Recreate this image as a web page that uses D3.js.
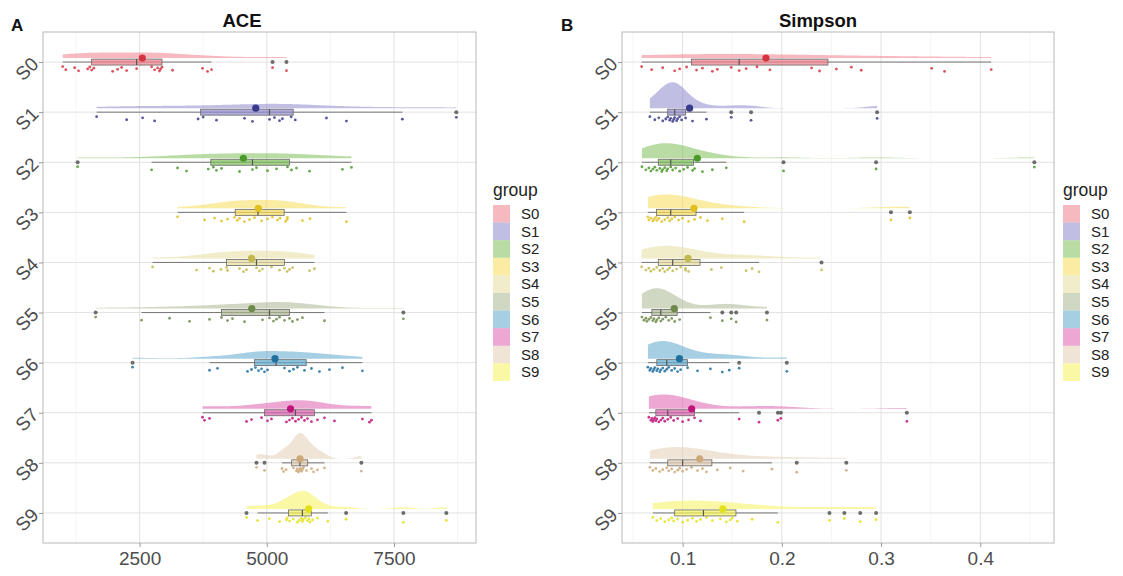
<!DOCTYPE html>
<html>
<head>
<meta charset="utf-8">
<script src="https://cdn.jsdelivr.net/npm/d3@7"></script>
<title>ACE / Simpson</title>
<style>
    body { margin: 0; background: #fff; }
    text { font-family: "Liberation Sans", Arial, sans-serif; }
</style>
</head>
<body>
<svg id="chart" width="1123" height="576"></svg>
<script>
const groups = ["S0", "S1", "S2", "S3", "S4", "S5", "S6", "S7", "S8", "S9"];
const fillColors = ["#EE7F8C", "#8E89CC", "#7EBF5A", "#F7DC5A", "#E5DC9E", "#A9B690", "#5FA8CC", "#DC5FAE", "#E3CDB5", "#F5F25A"];
const darkColors = ["#D6323F", "#3A3A8C", "#4A9A2A", "#E0C020", "#C2BA4E", "#6E8A4A", "#1F6F9F", "#C0157A", "#CDA878", "#E2E21A"];

// ACE values per group
const aceS0 = [988, 1050, 1223, 1300, 1479, 1520, 1557, 1600, 1970, 2068, 2146, 2245, 2441, 2736, 2795, 2854, 2890, 2912, 2940, 3148, 3737, 3836, 3914, 5114, 5387];
const aceS1 = [1655, 2245, 2559, 2795, 3650, 3750, 4012, 4562, 4719, 5053, 5151, 5250, 5308, 5480, 5560, 6173, 6566, 7665, 8726];
const aceS2 = [1282, 2736, 3246, 3423, 3850, 3950, 4010, 4110, 4464, 4719, 4798, 5014, 5191, 5407, 5485, 5583, 5839, 6487, 6664];
const aceS3 = [3246, 3777, 3973, 4110, 4228, 4366, 4420, 4464, 4560, 4660, 4759, 4896, 5014, 5112, 5210, 5260, 5370, 5400, 5407, 5701, 5850, 6566];
const aceS4 = [2755, 3619, 3875, 3950, 4100, 4209, 4228, 4464, 4543, 4602, 4798, 4857, 4916, 5092, 5250, 5348, 5400, 5446, 5505, 5839, 5937];
const aceS5 = [1636, 2539, 3089, 3482, 3875, 4110, 4228, 4326, 4562, 4916, 5053, 5132, 5191, 5250, 5348, 5446, 5505, 5603, 5701, 6134, 7685];
const aceS6 = [2362, 3875, 4032, 4621, 4700, 4778, 4837, 4896, 4955, 5014, 5348, 5446, 5525, 5603, 5741, 5878, 6035, 6232, 6487, 6880];
const aceS7 = [3737, 3777, 3875, 4602, 4700, 4896, 5014, 5092, 5387, 5446, 5505, 5564, 5623, 5682, 5741, 5800, 5878, 5996, 6134, 6330, 6880, 7018, 7057];
const aceS8 = [4798, 4955, 5300, 5330, 5380, 5525, 5584, 5600, 5623, 5642, 5660, 5682, 5700, 5721, 5780, 5880, 5920, 5996, 6134, 6860];
const aceS9 = [4602, 4818, 5050, 5250, 5387, 5400, 5450, 5520, 5600, 5640, 5682, 5700, 5720, 5760, 5800, 5830, 5850, 5900, 6000, 6200, 6560, 7685, 8530];

// Simpson values per group
const simS0 = [0.0587, 0.0688, 0.0799, 0.092, 0.097, 0.104, 0.114, 0.120, 0.130, 0.135, 0.149, 0.157, 0.164, 0.175, 0.188, 0.230, 0.238, 0.255, 0.270, 0.280, 0.351, 0.364, 0.411];
const simS1 = [0.067, 0.072, 0.076, 0.080, 0.083, 0.085, 0.087, 0.088, 0.090, 0.091, 0.092, 0.094, 0.095, 0.097, 0.099, 0.103, 0.110, 0.124, 0.149, 0.169, 0.296];
const simS2 = [0.059, 0.063, 0.066, 0.068, 0.070, 0.072, 0.074, 0.077, 0.079, 0.080, 0.082, 0.084, 0.085, 0.088, 0.090, 0.093, 0.097, 0.101, 0.105, 0.110, 0.112, 0.120, 0.130, 0.144, 0.2017, 0.295, 0.4545];
const simS3 = [0.065, 0.066, 0.068, 0.070, 0.071, 0.073, 0.074, 0.076, 0.079, 0.082, 0.085, 0.087, 0.089, 0.092, 0.096, 0.100, 0.106, 0.112, 0.118, 0.125, 0.140, 0.162, 0.310, 0.329];
const simS4 = [0.0587, 0.063, 0.066, 0.068, 0.071, 0.074, 0.077, 0.080, 0.082, 0.085, 0.087, 0.090, 0.094, 0.098, 0.103, 0.103, 0.106, 0.129, 0.139, 0.164, 0.170, 0.177, 0.240];
const simS5 = [0.059, 0.061, 0.063, 0.064, 0.066, 0.068, 0.070, 0.071, 0.073, 0.074, 0.076, 0.078, 0.080, 0.083, 0.086, 0.089, 0.092, 0.097, 0.128, 0.140, 0.149, 0.154, 0.185];
const simS6 = [0.065, 0.067, 0.068, 0.070, 0.071, 0.072, 0.074, 0.075, 0.077, 0.078, 0.080, 0.082, 0.084, 0.086, 0.089, 0.092, 0.095, 0.098, 0.105, 0.115, 0.128, 0.140, 0.147, 0.157, 0.205];
const simS7 = [0.066, 0.068, 0.069, 0.070, 0.071, 0.072, 0.073, 0.074, 0.076, 0.078, 0.080, 0.082, 0.085, 0.088, 0.091, 0.095, 0.100, 0.106, 0.112, 0.118, 0.157, 0.177, 0.196, 0.199, 0.326];
const simS8 = [0.067, 0.070, 0.073, 0.077, 0.080, 0.084, 0.086, 0.089, 0.092, 0.095, 0.097, 0.100, 0.104, 0.109, 0.115, 0.120, 0.124, 0.135, 0.148, 0.161, 0.190, 0.215, 0.265];
const simS9 = [0.070, 0.074, 0.078, 0.082, 0.086, 0.089, 0.091, 0.095, 0.100, 0.105, 0.110, 0.114, 0.118, 0.124, 0.130, 0.138, 0.144, 0.148, 0.150, 0.155, 0.170, 0.196, 0.248, 0.263, 0.279, 0.295];

const aceTicks = [2500, 5000, 7500];
const aceMinor = [1250, 3750, 6250, 8750];
const simTicks = [0.1, 0.2, 0.3, 0.4];
const simMinor = [0.05, 0.15, 0.25, 0.35, 0.45];

const svg = d3.select("#chart");
const plotTop = 32, plotBottom = 543;

// bandwidth like R's bw.nrd0
function nrd0(v) {
    const sd = d3.deviation(v);
    const iqr = d3.quantile(v, 0.75) - d3.quantile(v, 0.25);
    const lo = Math.min(sd, iqr / 1.34) || sd;
    return 0.9 * lo * Math.pow(v.length, -0.2);
}

function density(v, adjust) {
    const bw = nrd0(v) * adjust;
    const [mn, mx] = d3.extent(v);
    return d3.range(200).map(i => {
        const x = mn + (mx - mn) * i / 199;
        const d = d3.mean(v, t => Math.exp(-0.5 * ((x - t) / bw) ** 2)) / (bw * Math.sqrt(2 * Math.PI));
        return [x, d];
    });
}

function boxStats(v) {
    const s = v.slice().sort(d3.ascending);
    const q1 = d3.quantile(s, 0.25), med = d3.quantile(s, 0.5), q3 = d3.quantile(s, 0.75);
    const iqr = q3 - q1;
    const inside = s.filter(d => d >= q1 - 1.5 * iqr && d <= q3 + 1.5 * iqr);
    return {
        q1, med, q3,
        lo: d3.min(inside), hi: d3.max(inside),
        out: s.filter(d => d < q1 - 1.5 * iqr || d > q3 + 1.5 * iqr),
        mean: d3.mean(s)
    };
}

function jitter(i) {
    return ((i * 0.618034) % 1 - 0.5) * 5;
}

function drawPanel({data, left, right, title, titleX, letter, letterX, ticks, minor, fmt, legendX, adjust}) {
    const all = data.flat();
    const ext = d3.extent(all);
    const pad = (ext[1] - ext[0]) * 0.05;
    const x = d3.scaleLinear().domain([ext[0] - pad, ext[1] + pad]).range([left, right]);
    const y = d3.scalePoint().domain(groups).range([plotTop, plotBottom]).padding(0.6);

    const g = svg.append("g");

    // grid
    g.selectAll(".minor").data(minor.filter(d => x(d) > left && x(d) < right)).join("line")
        .attr("x1", d => x(d)).attr("x2", d => x(d)).attr("y1", plotTop).attr("y2", plotBottom)
        .attr("stroke", "#EFEFEF").attr("stroke-width", 0.6);
    g.selectAll(".major").data(ticks).join("line")
        .attr("x1", d => x(d)).attr("x2", d => x(d)).attr("y1", plotTop).attr("y2", plotBottom)
        .attr("stroke", "#E2E2E2").attr("stroke-width", 1);
    g.selectAll(".hgrid").data(groups).join("line")
        .attr("x1", left).attr("x2", right).attr("y1", d => y(d)).attr("y2", d => y(d))
        .attr("stroke", "#E2E2E2").attr("stroke-width", 1);

    const dens = data.map(v => density(v, adjust));
    const maxD = d3.max(dens, d => d3.max(d, p => p[1]));
    const vh = d3.scaleLinear().domain([0, maxD]).range([0, 26]);

    groups.forEach((name, k) => {
        const c = y(name);
        const v = data[k];
        const st = boxStats(v);
        const row = g.append("g");

        // half violin
        const area = d3.area()
            .x(d => x(d[0]))
            .y0(c - 4)
            .y1(d => c - 4 - vh(d[1]));
        row.append("path").datum(dens[k]).attr("d", area)
            .attr("fill", fillColors[k]).attr("fill-opacity", 0.55);

        // raw points below
        row.selectAll(".pt").data(v).join("circle")
            .attr("cx", d => x(d)).attr("cy", (d, i) => c + 7 + jitter(i))
            .attr("r", 1.4).attr("fill", darkColors[k]).attr("fill-opacity", 0.85);

        // whisker + box
        row.append("line").attr("x1", x(st.lo)).attr("x2", x(st.hi)).attr("y1", c).attr("y2", c)
            .attr("stroke", "#6A6A6A").attr("stroke-width", 0.9);
        row.append("rect").attr("x", x(st.q1)).attr("y", c - 3)
            .attr("width", x(st.q3) - x(st.q1)).attr("height", 6)
            .attr("fill", fillColors[k]).attr("fill-opacity", 0.7)
            .attr("stroke", "#6A6A6A").attr("stroke-width", 0.8);
        row.append("line").attr("x1", x(st.med)).attr("x2", x(st.med)).attr("y1", c - 3).attr("y2", c + 3)
            .attr("stroke", "#555").attr("stroke-width", 1.2);
        row.selectAll(".out").data(st.out).join("circle")
            .attr("cx", d => x(d)).attr("cy", c).attr("r", 2)
            .attr("fill", "#555").attr("fill-opacity", 0.85);

        // mean
        row.append("circle").attr("cx", x(st.mean)).attr("cy", c - 4).attr("r", 3.6)
            .attr("fill", darkColors[k]);
    });

    // border
    g.append("rect").attr("x", left).attr("y", plotTop).attr("width", right - left).attr("height", plotBottom - plotTop)
        .attr("fill", "none").attr("stroke", "#B8B8B8").attr("stroke-width", 1);

    // axes
    const xa = g.append("g").attr("transform", `translate(0,${plotBottom})`)
        .call(d3.axisBottom(x).tickValues(ticks).tickSize(4).tickPadding(5).tickFormat(fmt));
    xa.select(".domain").remove();
    xa.selectAll(".tick line").attr("stroke", "#999");
    xa.selectAll("text").attr("fill", "#4D4D4D").style("font-size", "19px")
        .style("font-family", "'Liberation Sans', Arial, sans-serif");

    const ya = g.append("g").attr("transform", `translate(${left},0)`)
        .call(d3.axisLeft(y).tickSize(4));
    ya.select(".domain").remove();
    ya.selectAll(".tick line").attr("stroke", "#999");
    ya.selectAll("text").attr("x", null).attr("dy", "0.35em")
        .attr("transform", "translate(-8,-2) rotate(-45)")
        .attr("fill", "#4D4D4D").style("font-size", "19px")
        .style("font-family", "'Liberation Sans', Arial, sans-serif");

    // titles
    svg.append("text").attr("x", titleX).attr("y", 27).attr("text-anchor", "middle")
        .attr("font-weight", "bold").attr("font-size", 18.5).attr("fill", "#111").text(title);
    svg.append("text").attr("x", letterX).attr("y", 31)
        .attr("font-weight", "bold").attr("font-size", 17).attr("fill", "#111").text(letter);

    // legend
    const lg = svg.append("g").attr("transform", `translate(${legendX},0)`);
    lg.append("text").attr("x", 0).attr("y", 196).attr("font-size", 17.5).attr("fill", "#222").text("group");
    lg.selectAll("rect").data(groups).join("rect")
        .attr("x", 0).attr("y", (d, i) => 205 + i * 17.6).attr("width", 17).attr("height", 17.6)
        .attr("fill", (d, i) => fillColors[i]).attr("fill-opacity", 0.55);
    lg.selectAll(".lab").data(groups).join("text")
        .attr("x", 28).attr("y", (d, i) => 205 + i * 17.6 + 8.8).attr("dy", "0.35em")
        .attr("font-size", 15).attr("fill", "#222").text(d => d);
}

drawPanel({
    data: [aceS0, aceS1, aceS2, aceS3, aceS4, aceS5, aceS6, aceS7, aceS8, aceS9],
    left: 43, right: 476, title: "ACE", titleX: 242, letter: "A", letterX: 11,
    ticks: aceTicks, minor: aceMinor, fmt: d3.format("d"), legendX: 493, adjust: 1.1
});
drawPanel({
    data: [simS0, simS1, simS2, simS3, simS4, simS5, simS6, simS7, simS8, simS9],
    left: 622, right: 1054, title: "Simpson", titleX: 818, letter: "B", letterX: 561,
    ticks: simTicks, minor: simMinor, fmt: d3.format(".1f"), legendX: 1063, adjust: 1.7
});
</script>
</body>
</html>
